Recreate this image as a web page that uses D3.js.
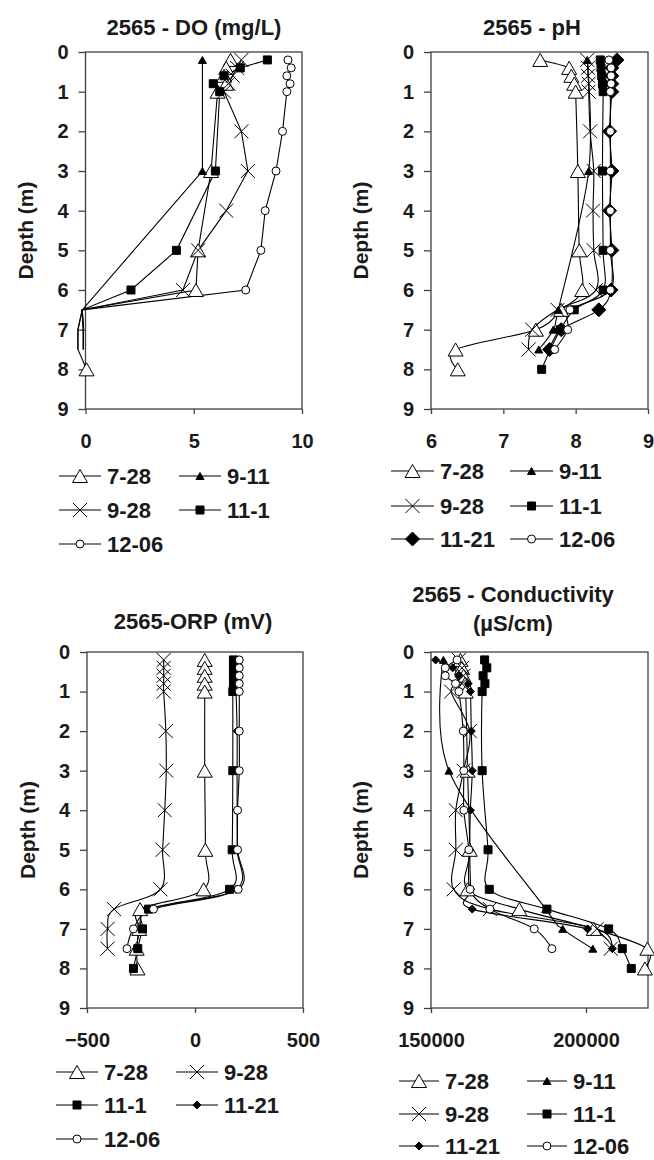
<!DOCTYPE html>
<html>
<head>
<meta charset="utf-8">
<script src="https://cdn.jsdelivr.net/npm/d3@7"></script>
<style>
  body { margin: 0; background: #fff; }
  svg text { font-family: "Liberation Sans", Arial, sans-serif; font-weight: bold; fill: #1a1a1a; }
</style>
</head>
<body>
<svg id="chart" width="654" height="1160"></svg>
<script>
// ---- data (depth in m) ----
const depthTicks = [0, 1, 2, 3, 4, 5, 6, 7, 8, 9];

// DO (mg/L)
const doDepth728 = [0.2, 0.4, 0.6, 0.8, 1, 3, 5, 6, 6.5, 7, 7.5, 8];
const doVal728   = [6.7, 6.5, 6.4, 6.5, 6.1, 5.8, 5.2, 5.1, -0.15, -0.35, -0.35, 0.05];
const doDepth911 = [0.2, 3, 6.5, 7, 7.5];
const doVal911   = [5.4, 5.4, -0.15, -0.1, -0.1];
const doDepth928 = [0.2, 0.4, 0.6, 0.8, 1, 2, 3, 4, 5, 6, 6.5, 7, 7.5];
const doVal928   = [7.2, 7.0, 6.8, 6.6, 6.4, 7.2, 7.5, 6.5, 5.2, 4.5, -0.15, -0.1, -0.1];
const doDepth111 = [0.2, 0.4, 0.6, 0.8, 1, 3, 5, 6, 6.5, 7, 7.5];
const doVal111   = [8.4, 7.15, 6.4, 5.9, 6.2, 6.0, 4.2, 2.1, -0.15, -0.1, -0.1];
const doDepth1206 = [0.2, 0.4, 0.6, 0.8, 1, 2, 3, 4, 5, 6, 6.5, 7, 7.5];
const doVal1206   = [9.35, 9.5, 9.3, 9.45, 9.3, 9.1, 8.8, 8.3, 8.1, 7.4, -0.15, -0.35, -0.35];

// pH
const phDepth728 = [0.2, 0.4, 0.6, 0.8, 1, 3, 5, 6, 6.5, 7, 7.5, 8];
const phVal728   = [7.51, 7.91, 7.94, 7.98, 8.0, 8.03, 8.05, 8.09, 7.8, 7.45, 6.34, 6.37];
const phDepth911 = [0.2, 3, 6.5, 7, 7.5];
const phVal911   = [8.16, 8.18, 7.76, 7.69, 7.49];
const phDepth928 = [0.2, 0.4, 0.6, 0.8, 1, 2, 3, 4, 5, 6, 6.5, 7, 7.5];
const phVal928   = [8.16, 8.17, 8.17, 8.18, 8.18, 8.2, 8.25, 8.24, 8.25, 8.28, 7.75, 7.4, 7.35];
const phDepth111 = [0.2, 0.4, 0.6, 0.8, 1, 3, 5, 6, 6.5, 7, 7.5, 8];
const phVal111   = [8.34, 8.35, 8.36, 8.37, 8.38, 8.37, 8.38, 8.38, 7.98, 7.79, 7.65, 7.53];
const phDepth1121 = [0.2, 0.4, 0.6, 0.8, 1, 2, 3, 4, 5, 6, 6.5, 7, 7.5];
const phVal1121   = [8.57, 8.5, 8.5, 8.5, 8.5, 8.47, 8.5, 8.47, 8.5, 8.49, 8.32, 7.8, 7.64];
const phDepth1206 = [0.2, 0.4, 0.6, 0.8, 1, 2, 3, 4, 5, 6, 6.5, 7, 7.5];
const phVal1206   = [8.46, 8.49, 8.49, 8.49, 8.48, 8.48, 8.48, 8.48, 8.48, 8.48, 7.92, 7.89, 7.71];

// ORP (mV)
const orpDepth728 = [0.2, 0.4, 0.6, 0.8, 1, 3, 5, 6, 6.5, 7, 7.5, 8];
const orpVal728   = [45, 45, 45, 45, 45, 45, 48, 40, -254, -258, -270, -266];
const orpDepth928 = [0.2, 0.4, 0.6, 0.8, 1, 2, 3, 4, 5, 6, 6.5, 7, 7.5];
const orpVal928   = [-145, -145, -145, -145, -145, -135, -133, -140, -150, -160, -375, -405, -405];
const orpDepth111 = [0.2, 0.4, 0.6, 0.8, 1, 3, 5, 6, 6.5, 7, 7.5, 8];
const orpVal111   = [178, 178, 178, 178, 175, 175, 172, 160, -215, -243, -265, -285];
const orpDepth1121 = [0.2, 0.4, 0.6, 0.8, 1, 2, 3, 4, 5, 6, 6.5, 7, 7.5];
const orpVal1121   = [190, 190, 190, 190, 190, 195, 195, 195, 195, 190, -205, -255, -270];
const orpDepth1206 = [0.2, 0.4, 0.6, 0.8, 1, 2, 3, 4, 5, 6, 6.5, 7, 7.5];
const orpVal1206   = [205, 205, 205, 205, 205, 205, 205, 197, 197, 200, -192, -285, -315];

// Conductivity (uS/cm)
const condDepth728 = [0.2, 0.4, 0.6, 0.8, 1, 3, 5, 6, 6.5, 7, 7.5, 8];
const condVal728   = [159500, 160000, 160500, 161000, 161200, 161800, 162500, 161800, 178500, 202500, 219800, 219000];
const condDepth911 = [0.2, 3, 6.5, 7, 7.5];
const condVal911   = [154000, 155800, 187000, 192500, 202200];
const condDepth928 = [0.2, 0.4, 0.6, 0.8, 1, 2, 3, 4, 5, 6, 6.5, 7, 7.5];
const condVal928   = [159000, 160000, 160500, 160000, 156500, 162500, 160500, 158000, 158000, 157300, 169000, 203500, 208000];
const condDepth111 = [0.2, 0.4, 0.6, 0.8, 1, 3, 5, 6, 6.5, 7, 7.5, 8];
const condVal111   = [167300, 168000, 166800, 167400, 166500, 166500, 168400, 168800, 187400, 207300, 211700, 214600];
const condDepth1121 = [0.2, 0.4, 0.6, 0.8, 1, 2, 3, 4, 5, 6, 6.5, 7, 7.5];
const condVal1121   = [151500, 157000, 159000, 162000, 162700, 163000, 163300, 162700, 162500, 162800, 163300, 200500, 208500];
const condDepth1206 = [0.2, 0.4, 0.6, 0.8, 1, 2, 3, 4, 5, 6, 6.5, 7, 7.5];
const condVal1206   = [158400, 154600, 154600, 157900, 159000, 160400, 160600, 160600, 162200, 162600, 169000, 183300, 189000];

// ---- marker styles ----
const markerStyle = {
  "7-28":  { type: "triangle", fill: "#fff", size: 15 },
  "9-11":  { type: "triangle", fill: "#000", size: 8 },
  "9-28":  { type: "x", fill: "none", size: 14 },
  "11-1":  { type: "square", fill: "#000", size: 8 },
  "11-21": { type: "diamond", fill: "#000", size: 8 },
  "12-06": { type: "circle", fill: "#fff", size: 8 }
};

function markerPath(type, s) {
  const h = s / 2;
  if (type === "triangle") {
    const th = s * 0.87;
    return `M0,${-th / 2}L${h},${th / 2}L${-h},${th / 2}Z`;
  }
  if (type === "square") return `M${-h},${-h}H${h}V${h}H${-h}Z`;
  if (type === "diamond") return `M0,${-h}L${h},0L0,${h}L${-h},0Z`;
  if (type === "x") return `M${-h},${-h}L${h},${h}M${h},${-h}L${-h},${h}`;
  return `M${h},0A${h},${h} 0 1,1 ${-h},0A${h},${h} 0 1,1 ${h},0Z`;
}

function series(name, depth, value) {
  return { name, points: depth.map((d, i) => ({ depth: d, value: value[i] })) };
}

const panels = [
  {
    title: ["2565 - DO (mg/L)"], titleX: 194, titleY: [27],
    box: { left: 85.5, right: 302, top: 52, bottom: 409 },
    domain: [0, 10], ticks: [0, 5, 10], curve: d3.curveLinear, ylabelX: 25,
    series: [
      series("7-28", doDepth728, doVal728),
      series("9-11", doDepth911, doVal911),
      series("9-28", doDepth928, doVal928),
      series("11-1", doDepth111, doVal111),
      series("12-06", doDepth1206, doVal1206)
    ],
    legend: { cols: [59, 179], rows: [476, 510, 544], len: 42 }
  },
  {
    title: ["2565 - pH"], titleX: 532, titleY: [27],
    box: { left: 431, right: 648, top: 52, bottom: 409 },
    domain: [6, 9], ticks: [6, 7, 8, 9], curve: d3.curveCardinal.tension(0), ylabelX: 360,
    sizes: { "11-21": 14 },
    series: [
      series("7-28", phDepth728, phVal728),
      series("9-11", phDepth911, phVal911),
      series("9-28", phDepth928, phVal928),
      series("11-1", phDepth111, phVal111),
      series("11-21", phDepth1121, phVal1121),
      series("12-06", phDepth1206, phVal1206)
    ],
    legend: { cols: [391, 510], rows: [471, 506, 539], len: 43 }
  },
  {
    title: ["2565-ORP (mV)"], titleX: 193, titleY: [621],
    box: { left: 87, right: 303, top: 652, bottom: 1008 },
    domain: [-500, 500], ticks: [-500, 0, 500], curve: d3.curveCardinal.tension(0), ylabelX: 27,
    series: [
      series("7-28", orpDepth728, orpVal728),
      series("9-28", orpDepth928, orpVal928),
      series("11-1", orpDepth111, orpVal111),
      series("11-21", orpDepth1121, orpVal1121),
      series("12-06", orpDepth1206, orpVal1206)
    ],
    legend: { cols: [56, 176], rows: [1072, 1105, 1139], len: 42 }
  },
  {
    title: ["2565 - Conductivity", "(\u00B5S/cm)"], titleX: 513, titleY: [594, 623],
    box: { left: 431, right: 648, top: 652, bottom: 1008 },
    domain: [150000, 220000], ticks: [150000, 200000], curve: d3.curveCardinal.tension(0), ylabelX: 360,
    series: [
      series("7-28", condDepth728, condVal728),
      series("9-11", condDepth911, condVal911),
      series("9-28", condDepth928, condVal928),
      series("11-1", condDepth111, condVal111),
      series("11-21", condDepth1121, condVal1121),
      series("12-06", condDepth1206, condVal1206)
    ],
    legend: { cols: [399, 527], rows: [1081, 1114, 1146], len: 40 }
  }
];

const svg = d3.select("#chart");

function drawMarker(g, name, sizes, x, y) {
  const st = markerStyle[name];
  const size = (sizes && sizes[name]) || st.size;
  g.append("path")
    .attr("d", markerPath(st.type, size))
    .attr("transform", `translate(${x},${y})`)
    .attr("fill", st.fill)
    .attr("stroke", "#000")
    .attr("stroke-width", 1);
}

panels.forEach(p => {
  const b = p.box;
  const x = d3.scaleLinear().domain(p.domain).range([b.left, b.right]);
  const y = d3.scaleLinear().domain([0, 9]).range([b.top, b.bottom]);
  const g = svg.append("g");

  // Title
  p.title.forEach((t, i) => {
    g.append("text")
      .attr("x", p.titleX)
      .attr("y", p.titleY[i])
      .attr("dy", "0.36em")
      .attr("text-anchor", "middle")
      .style("font-size", "22px")
      .text(t);
  });

  // Axes
  const yAxis = g.append("g")
    .attr("transform", `translate(${b.left},0)`)
    .call(d3.axisLeft(y).tickValues(depthTicks).tickSize(7).tickSizeOuter(0).tickPadding(10));
  const xAxis = g.append("g")
    .attr("transform", `translate(0,${b.bottom})`)
    .call(d3.axisBottom(x).tickValues(p.ticks).tickSize(5).tickSizeOuter(0).tickPadding(20).tickFormat(d3.format("d")));
  [yAxis, xAxis].forEach(a => {
    a.select(".domain").remove();
    a.selectAll(".tick line").attr("stroke", "#404040").attr("stroke-width", 1.3);
    a.selectAll(".tick text")
      .style("font-size", "20px")
      .style("font-family", "'Liberation Sans', Arial, sans-serif")
      .style("font-weight", "bold")
      .attr("fill", "#1a1a1a");
  });

  // Plot border
  g.append("rect")
    .attr("x", b.left).attr("y", b.top)
    .attr("width", b.right - b.left).attr("height", b.bottom - b.top)
    .attr("fill", "none").attr("stroke", "#404040").attr("stroke-width", 1.3);

  // Axis label
  g.append("text")
    .attr("transform", `translate(${p.ylabelX},${(b.top + b.bottom) / 2}) rotate(-90)`)
    .attr("dy", "0.36em")
    .attr("text-anchor", "middle")
    .style("font-size", "21px")
    .text("Depth (m)");

  // Series
  const line = d3.line().x(d => x(d.value)).y(d => y(d.depth)).curve(p.curve);
  p.series.forEach(s => {
    g.append("path")
      .datum(s.points)
      .attr("d", line)
      .attr("fill", "none")
      .attr("stroke", "#000")
      .attr("stroke-width", 1.1);
  });
  p.series.forEach(s => {
    s.points
      .filter(d => d.value >= p.domain[0] && d.value <= p.domain[1])
      .forEach(d => drawMarker(g, s.name, p.sizes, x(d.value), y(d.depth)));
  });

  // Legend
  const L = p.legend;
  p.series.forEach((s, i) => {
    const cx = L.cols[i % 2];
    const cy = L.rows[Math.floor(i / 2)];
    g.append("line")
      .attr("x1", cx).attr("x2", cx + L.len)
      .attr("y1", cy).attr("y2", cy)
      .attr("stroke", "#000").attr("stroke-width", 1.1);
    drawMarker(g, s.name, p.sizes, cx + L.len / 2, cy);
    g.append("text")
      .attr("x", cx + L.len + 6)
      .attr("y", cy)
      .attr("dy", "0.36em")
      .style("font-size", "22px")
      .text(s.name);
  });
});
</script>
</body>
</html>
